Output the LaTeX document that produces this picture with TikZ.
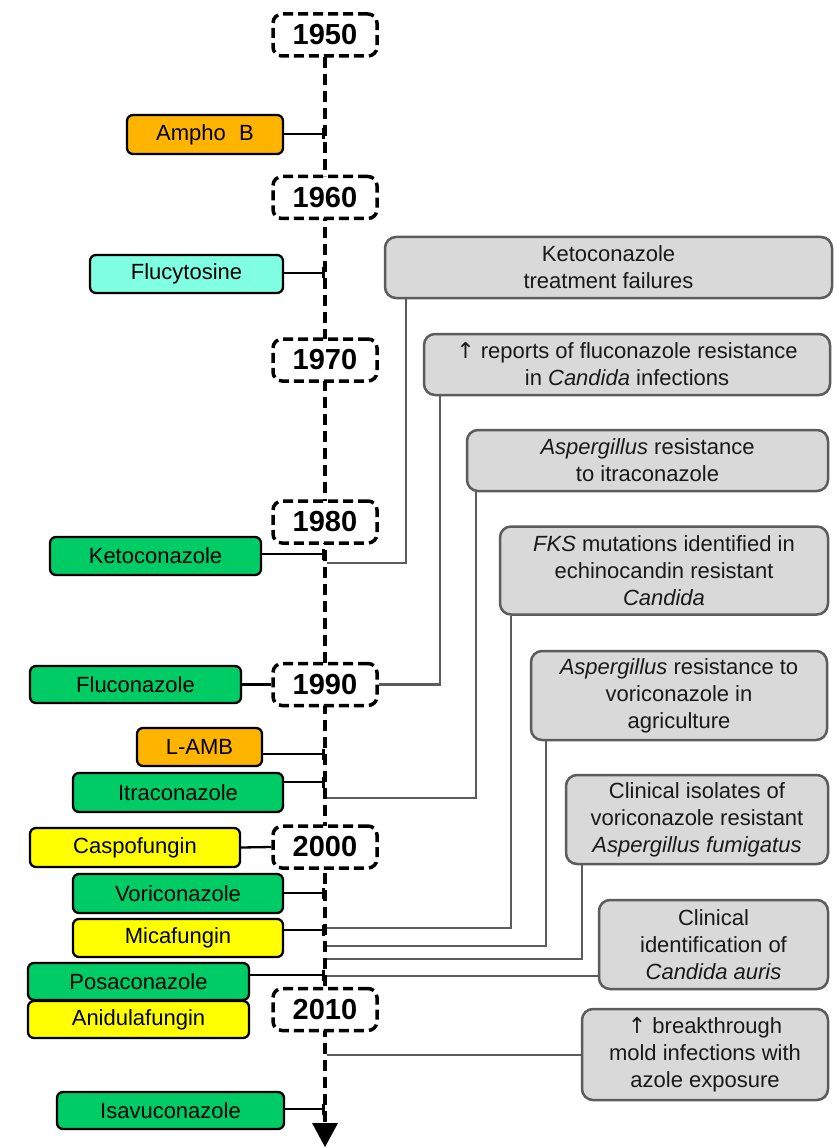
\documentclass[tikz,border=0pt]{standalone}
\usepackage{fontspec}
\setmainfont{Liberation Sans}
\newfontfamily\arrowfont{DejaVu Sans}
\newcommand{\uparr}{{\arrowfont ↑}}
\usetikzlibrary{arrows.meta}
\definecolor{cOrange}{RGB}{255,180,0}
\definecolor{cCyan}{RGB}{128,255,226}
\definecolor{cGreen}{RGB}{0,204,102}
\definecolor{cYellow}{RGB}{255,255,0}
\definecolor{evfill}{RGB}{217,217,217}
\definecolor{evborder}{RGB}{92,92,92}
\begin{document}
\begin{tikzpicture}[x=1pt,y=-1pt,
  drug/.style={draw=black, line width=2.3pt, rounded corners=6pt, inner sep=0pt,
    font=\fontsize{22}{26}\selectfont, text=black},
  year/.style={draw=black, fill=white, line width=3.5pt, dash pattern=on 10pt off 5pt,
    rounded corners=9pt, minimum width=104pt, minimum height=42pt, inner sep=0pt,
    font=\fontsize{29}{32}\selectfont\bfseries},
  event/.style={draw=evborder, fill=evfill, line width=2.5pt, rounded corners=11pt,
    inner sep=0pt, align=center, font=\fontsize{22}{27}\selectfont, text=black!90},
  dlink/.style={line width=2.3pt, -{Bar[width=11pt,line width=3.5pt]}},
  elink/.style={draw=evborder, line width=2.5pt},
  axisline/.style={line width=4pt, dash pattern=on 11pt off 6pt}]
\useasboundingbox (0,0) rectangle (836,1147);
\fill[white] (0,0) rectangle (836,1147);

% timeline axis
\coordinate (axTop) at (325,57);
\coordinate (axBot) at (325,1124);
\draw[axisline] (axTop) -- (axBot);
\fill (312,1123) -- (338,1123) -- (325,1147) -- cycle;

% year boxes
\node[year] (y1950) at (325,35) {1950};
\node[year] (y1960) at (325,197.5) {1960};
\node[year] (y1970) at (325,360) {1970};
\node[year] (y1980) at (325,522) {1980};
\node[year] (y1990) at (325,684.5) {1990};
\node[year] (y2000) at (325,847) {2000};
\node[year] (y2010) at (325,1009.5) {2010};

% axis attachment points
\coordinate (aAmpho) at (325,134);
\coordinate (aFlucy) at (325,273);
\coordinate (aKeto) at (325,554);
\coordinate (aLamb) at (325,754);
\coordinate (aItra) at (325,782);
\coordinate (aVori) at (325,893);
\coordinate (aMica) at (325,930);
\coordinate (aPosa) at (325,975);
\coordinate (aIsav) at (325,1109);

\coordinate (eKF) at (327,563);
\coordinate (eAI) at (327,798);
\coordinate (eFKS) at (327,928);
\coordinate (eAV) at (327,946);
\coordinate (eCI) at (327,959);
\coordinate (eCA) at (327,976);
\coordinate (eBT) at (327,1055);

% event boxes
\node[event, minimum width=447pt, minimum height=61pt] (kf) at (608.5,267.5)
  {Ketoconazole\\treatment failures};
\node[event, minimum width=406pt, minimum height=61pt] (fr) at (627,364.5)
  {\uparr\ reports of fluconazole resistance\\in \textit{Candida} infections};
\node[event, minimum width=361pt, minimum height=61pt] (ai) at (647.5,460.5)
  {\textit{Aspergillus} resistance\\to itraconazole};
\node[event, minimum width=328pt, minimum height=88pt] (fks) at (664,570.5)
  {\textit{FKS} mutations identified in\\echinocandin resistant\\\textit{Candida}};
\node[event, minimum width=296pt, minimum height=89pt] (av) at (679,695.5)
  {\textit{Aspergillus} resistance to\\voriconazole in\\agriculture};
\node[event, minimum width=262pt, minimum height=89pt] (ci) at (697,819.5)
  {Clinical isolates of\\voriconazole resistant\\\textit{Aspergillus fumigatus}};
\node[event, minimum width=229pt, minimum height=89pt] (ca) at (713.5,944.5)
  {Clinical\\identification of\\\textit{Candida auris}};
\node[event, minimum width=246pt, minimum height=91pt] (bt) at (705,1054.5)
  {\uparr\ breakthrough\\mold infections with\\azole exposure};

% event connectors
\draw[elink] ([xshift=22pt]kf.south west) |- (eKF);
\draw[elink] ([xshift=17pt]fr.south west) |- (y1990.east);
\draw[elink] ([xshift=10pt]ai.south west) |- (eAI);
\draw[elink] ([xshift=12pt]fks.south west) |- (eFKS);
\draw[elink] ([xshift=16pt]av.south west) |- (eAV);
\draw[elink] ([xshift=17pt]ci.south west) |- (eCI);
\draw[elink] (ca.west |- eCA) -- (eCA);
\draw[elink] (bt.west |- eBT) -- (eBT);

% drug boxes
\node[drug, fill=cOrange, minimum width=156pt, minimum height=39pt] (ampho) at (205,134.5) {Ampho\,\, B};
\node[drug, fill=cCyan, minimum width=193pt, minimum height=38pt] (flucy) at (186.5,274) {Flucytosine};
\node[drug, fill=cGreen, minimum width=211pt, minimum height=38pt] (keto) at (155.5,556) {Ketoconazole};
\node[drug, fill=cGreen, minimum width=211pt, minimum height=37pt] (fluco) at (135.5,684.5) {Fluconazole};
\node[drug, fill=cOrange, minimum width=125pt, minimum height=38pt] (lamb) at (199.5,747) {L-AMB};
\node[drug, fill=cGreen, minimum width=210pt, minimum height=39pt] (itra) at (178,792.5) {Itraconazole};
\node[drug, fill=cYellow, minimum width=210pt, minimum height=39pt] (caspo) at (135,847.5) {Caspofungin};
\node[drug, fill=cGreen, minimum width=210pt, minimum height=39pt] (vori) at (178,893.5) {Voriconazole};
\node[drug, fill=cYellow, minimum width=210pt, minimum height=38pt] (mica) at (178,938) {Micafungin};
\node[drug, fill=cGreen, minimum width=221pt, minimum height=37pt] (posa) at (138.5,981.5) {Posaconazole};
\node[drug, fill=cYellow, minimum width=221pt, minimum height=37pt] (anid) at (138.5,1019.5) {Anidulafungin};
\node[drug, fill=cGreen, minimum width=227pt, minimum height=37pt] (isav) at (170.5,1110.5) {Isavuconazole};

% drug connectors
\draw[dlink] (ampho.east |- aAmpho) -- (aAmpho);
\draw[dlink] (flucy.east |- aFlucy) -- (aFlucy);
\draw[dlink] (keto.east |- aKeto) -- (aKeto);
\draw[line width=2.3pt] (fluco.east) -- (y1990.west);
\draw[dlink] (lamb.east |- aLamb) -- (aLamb);
\draw[dlink] (itra.east |- aItra) -- (aItra);
\draw[line width=2.3pt] (caspo.east) -- (y2000.west);
\draw[dlink] (vori.east |- aVori) -- (aVori);
\draw[dlink] (mica.east |- aMica) -- (aMica);
\draw[dlink] (posa.east |- aPosa) -- (aPosa);
\draw[dlink] (isav.east |- aIsav) -- (aIsav);
\end{tikzpicture}
\end{document}
